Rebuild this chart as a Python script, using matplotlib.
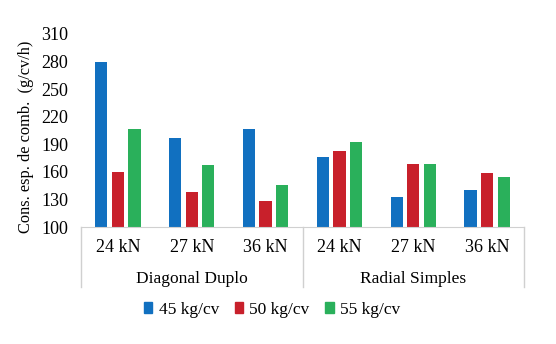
import matplotlib.pyplot as plt
import matplotlib.transforms as mtransforms
from matplotlib.lines import Line2D
from matplotlib.patches import Patch
import numpy as np

plt.rcParams['font.family'] = ['Liberation Serif', 'DejaVu Serif']

cargas = ["24 kN", "27 kN", "36 kN", "24 kN", "27 kN", "36 kN"]
pneus = ["Diagonal Duplo", "Radial Simples"]
series = ["45 kg/cv", "50 kg/cv", "55 kg/cv"]
v45 = [279, 197, 207, 176, 133, 140]
v50 = [160, 138, 128, 183, 169, 159]
v55 = [207, 167, 146, 192, 169, 154]
cores = ["#1170C0", "#C8202B", "#2AB05B"]
yticks = [100, 130, 160, 190, 220, 250, 280, 310]

fig = plt.figure(figsize=(5.56, 3.44), dpi=100)
ax = fig.add_axes([81 / 556, 1 - 227 / 344, (524 - 81) / 556, (227 - 34) / 344])

x = np.arange(len(cargas))
w = 0.165
d = 0.225
for off, vals, c, lab in zip([-d, 0, d], [v45, v50, v55], cores, series):
    ax.bar(x + off, np.array(vals) - 100, width=w, bottom=100, color=c, label=lab)

ax.set_xlim(-0.5, 5.5)
ax.set_ylim(100, 310)
ax.set_yticks(yticks)
ax.tick_params(axis="y", length=0, pad=9, labelsize=13)
ax.set_xticks([])
for s in ["top", "right", "left"]:
    ax.spines[s].set_visible(False)
ax.spines["bottom"].set_color("#D0D0D0")

# rótulos de carga e de pneu
tr = mtransforms.blended_transform_factory(ax.transData, fig.transFigure)
for xp, txt in zip(x, cargas):
    fig.text(xp, 1 - 247 / 344, txt, transform=tr, fontsize=13, ha="center", va="center")
for xp, nome in zip([1, 4], pneus):
    fig.text(xp, 1 - 279 / 344, nome, transform=tr, fontsize=12.5, ha="center", va="center")

# separadores dos grupos
for xs in [-0.5, 2.5, 5.5]:
    fig.add_artist(Line2D([xs, xs], [1 - 227 / 344, 1 - 287 / 344],
                          transform=tr, color="#D0D0D0", lw=1))

fig.text(26 / 556, 1 - 137 / 344, "Cons. esp. de comb.  (g/cv/h)",
         rotation=90, ha="center", va="center", fontsize=11.8)

handles = [Patch(color=c) for c in cores]
fig.legend(handles, series, loc="center", bbox_to_anchor=(272 / 556, 1 - 310 / 344),
           ncol=3, frameon=False, fontsize=12.5, handlelength=0.5, handleheight=0.6,
           handletextpad=0.35, columnspacing=0.9)

fig.savefig("out.png", dpi=100)
